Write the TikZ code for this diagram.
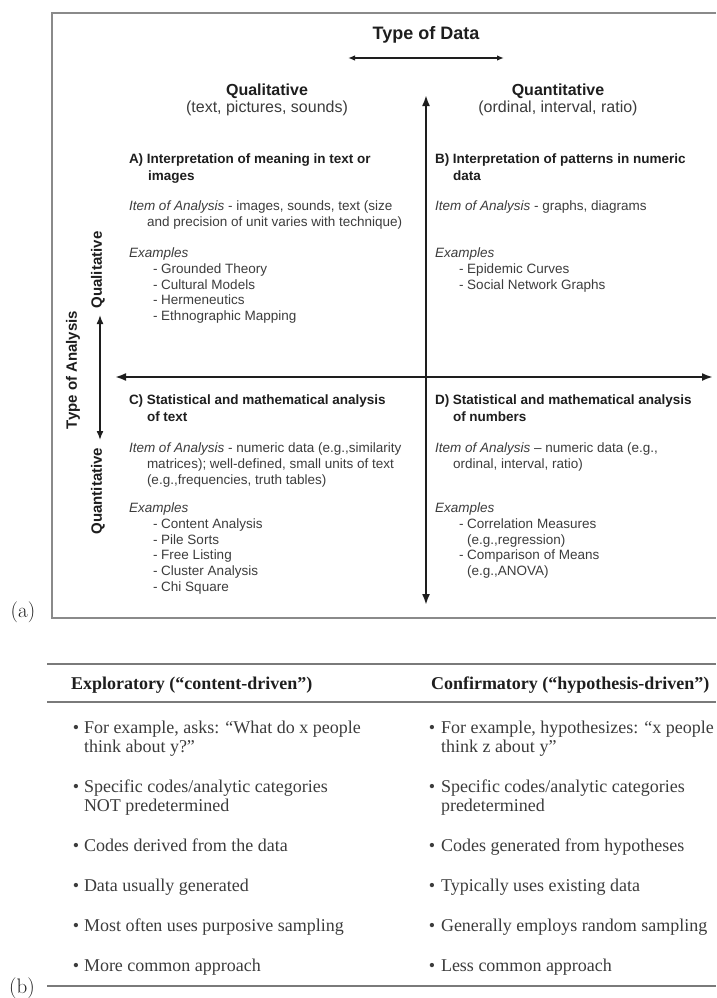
\documentclass[tikz,border=0pt]{standalone}
\usepackage{fontspec}
\newfontfamily\dsans{Liberation Sans}
\newfontfamily\tserif{Liberation Serif}
\usetikzlibrary{arrows.meta}
\definecolor{ink}{HTML}{1E1E1E}
\definecolor{bodyink}{HTML}{3C3C3C}
\definecolor{framegray}{HTML}{8A8A8A}
\definecolor{rulegray}{HTML}{7A7A7A}
\newcommand{\lines}[1]{\begin{tabular}[t]{@{}l@{}}#1\end{tabular}}

\begin{document}
\begin{tikzpicture}[x=1pt,y=-1pt,
  every node/.style={inner sep=0pt,outer sep=0pt},
  bigaxis/.style={draw=ink,line width=2pt,{Latex[length=11pt,width=8pt]}-{Latex[length=11pt,width=8pt]}},
  smallaxis/.style={draw=ink,line width=1.6pt,{Latex[length=9pt,width=7pt]}-{Latex[length=9pt,width=7pt]}},
  toparrow/.style={draw=ink,line width=1.4pt,{Latex[length=7pt,width=5.5pt]}-{Latex[length=7pt,width=5.5pt]}},
  framebox/.style={draw=framegray,line width=2pt},
  tablerule/.style={draw=rulegray,line width=2.4pt},
  titlelabel/.style={font=\dsans\bfseries\fontsize{18}{20}\selectfont,text=ink},
  catlabel/.style={font=\dsans\bfseries\fontsize{16}{17}\selectfont,text=ink},
  catsub/.style={font=\dsans\fontsize{16}{17}\selectfont,text=bodyink},
  sidelabel/.style={font=\dsans\bfseries\fontsize{15}{17}\selectfont,text=ink,rotate=90},
  qhead/.style={anchor=base west,font=\dsans\bfseries\fontsize{13.5}{16.5}\selectfont,text=ink},
  qbody/.style={anchor=base west,font=\dsans\fontsize{13.5}{15.8}\selectfont,text=bodyink},
  thead/.style={anchor=base west,font=\tserif\bfseries\fontsize{18}{19}\selectfont,text=ink},
  tbody/.style={anchor=base west,font=\tserif\fontsize{18}{19}\selectfont,text=bodyink},
  tbullet/.style={anchor=base,font=\tserif\fontsize{18}{19}\selectfont,text=bodyink},
  partlabel/.style={font=\fontsize{21}{24}\selectfont,text=ink}
]
\useasboundingbox (0,0) rectangle (716,998);

% ---------- (a) quadrant chart ----------
\draw[framebox] (716,13) -- (52,13) -- (52,618) -- (716,618);

\node[titlelabel] (typedata) at (426,35) {Type of Data};
\coordinate (tdl) at (348,58);
\coordinate (tdr) at (504,58);
\draw[toparrow] (tdl) -- (tdr);

\node[catlabel] (qualtop) at (267,91) {Qualitative};
\node[catsub]   (qualsub) at (267,108) {(text, pictures, sounds)};
\node[catlabel] (quantop) at (558,91) {Quantitative};
\node[catsub]   (quansub) at (558,108) {(ordinal, interval, ratio)};

% main axes
\coordinate (vtop) at (426,95);
\coordinate (vbot) at (426,605);
\coordinate (hleft) at (115,377);
\coordinate (hright) at (713,377);
\draw[bigaxis] (vtop) -- (vbot);
\draw[bigaxis] (hleft) -- (hright);

% analysis axis on the left
\node[sidelabel] (typeanalysis) at (73,370) {Type of Analysis};
\node[sidelabel] (qualside) at (98,270) {Qualitative};
\node[sidelabel] (quanside) at (98,491) {Quantitative};
\coordinate (sidetop) at (100,315);
\coordinate (sidebot) at (100,440);
\draw[smallaxis] (sidetop) -- (sidebot);

% quadrant A
\node[qhead] (ahead) at (129,163.5) {\lines{A) Interpretation of meaning in text or\\\hspace*{19pt}images}};
\node[qbody] (aitem) at (129,210.5) {\lines{\textit{Item of Analysis} - images, sounds, text (size\\\hspace*{18pt}and precision of unit varies with technique)}};
\node[qbody] (aex) at (129,257.5) {\lines{\textit{Examples}\\\hspace*{24pt}- Grounded Theory\\\hspace*{24pt}- Cultural Models\\\hspace*{24pt}- Hermeneutics\\\hspace*{24pt}- Ethnographic Mapping}};

% quadrant B
\node[qhead] (bhead) at (435,163.5) {\lines{B) Interpretation of patterns in numeric\\\hspace*{18pt}data}};
\node[qbody] (bitem) at (435,210.5) {\textit{Item of Analysis} - graphs, diagrams};
\node[qbody] (bex) at (435,257.5) {\lines{\textit{Examples}\\\hspace*{24pt}- Epidemic Curves\\\hspace*{24pt}- Social Network Graphs}};

% quadrant C
\node[qhead] (chead) at (129,404.5) {\lines{C) Statistical and mathematical analysis\\\hspace*{18pt}of text}};
\node[qbody] (citem) at (129,452.5) {\lines{\textit{Item of Analysis} - numeric data (e.g.,similarity\\\hspace*{18pt}matrices); well-defined, small units of text\\\hspace*{18pt}(e.g.,frequencies, truth tables)}};
\node[qbody] (cex) at (129,512.5) {\lines{\textit{Examples}\\\hspace*{24pt}- Content Analysis\\\hspace*{24pt}- Pile Sorts\\\hspace*{24pt}- Free Listing\\\hspace*{24pt}- Cluster Analysis\\\hspace*{24pt}- Chi Square}};

% quadrant D
\node[qhead] (dhead) at (435,404.5) {\lines{D) Statistical and mathematical analysis\\\hspace*{18pt}of numbers}};
\node[qbody] (ditem) at (435,452.5) {\lines{\textit{Item of Analysis} – numeric data (e.g.,\\\hspace*{18pt}ordinal, interval, ratio)}};
\node[qbody] (dex) at (435,512.5) {\lines{\textit{Examples}\\\hspace*{24pt}- Correlation Measures\\\hspace*{32pt}(e.g.,regression)\\\hspace*{24pt}- Comparison of Means\\\hspace*{32pt}(e.g.,ANOVA)}};

\node[partlabel] (parta) at (23,612) {(a)};

% ---------- (b) comparison table ----------
\draw[tablerule] (47,664) -- (716,664);
\draw[tablerule] (47,702) -- (716,702);
\draw[tablerule] (47,986) -- (716,986);

\node[thead] (hexp) at (71,689) {Exploratory (“content-driven”)};
\node[thead] (hconf) at (431,689) {Confirmatory (“hypothesis-driven”)};

% left column
\node[tbullet] (lb1) at (76,733.5) {•};
\node[tbody] (l1) at (84,733.5) {\lines{For example, asks: “What do x people\\think about y?”}};
\node[tbullet] (lb2) at (76,792.5) {•};
\node[tbody] (l2) at (84,792.5) {\lines{Specific codes/analytic categories\\NOT predetermined}};
\node[tbullet] (lb3) at (76,851.5) {•};
\node[tbody] (l3) at (84,851.5) {Codes derived from the data};
\node[tbullet] (lb4) at (76,891.5) {•};
\node[tbody] (l4) at (84,891.5) {Data usually generated};
\node[tbullet] (lb5) at (76,931.5) {•};
\node[tbody] (l5) at (84,931.5) {Most often uses purposive sampling};
\node[tbullet] (lb6) at (76,971.5) {•};
\node[tbody] (l6) at (84,971.5) {More common approach};

% right column
\node[tbullet] (rb1) at (432,733.5) {•};
\node[tbody] (r1) at (441,733.5) {\lines{For example, hypothesizes: “x people\\think z about y”}};
\node[tbullet] (rb2) at (432,792.5) {•};
\node[tbody] (r2) at (441,792.5) {\lines{Specific codes/analytic categories\\predetermined}};
\node[tbullet] (rb3) at (432,851.5) {•};
\node[tbody] (r3) at (441,851.5) {Codes generated from hypotheses};
\node[tbullet] (rb4) at (432,891.5) {•};
\node[tbody] (r4) at (441,891.5) {Typically uses existing data};
\node[tbullet] (rb5) at (432,931.5) {•};
\node[tbody] (r5) at (441,931.5) {Generally employs random sampling};
\node[tbullet] (rb6) at (432,971.5) {•};
\node[tbody] (r6) at (441,971.5) {Less common approach};

\node[partlabel] (partb) at (22,988) {(b)};
\end{tikzpicture}
\end{document}
